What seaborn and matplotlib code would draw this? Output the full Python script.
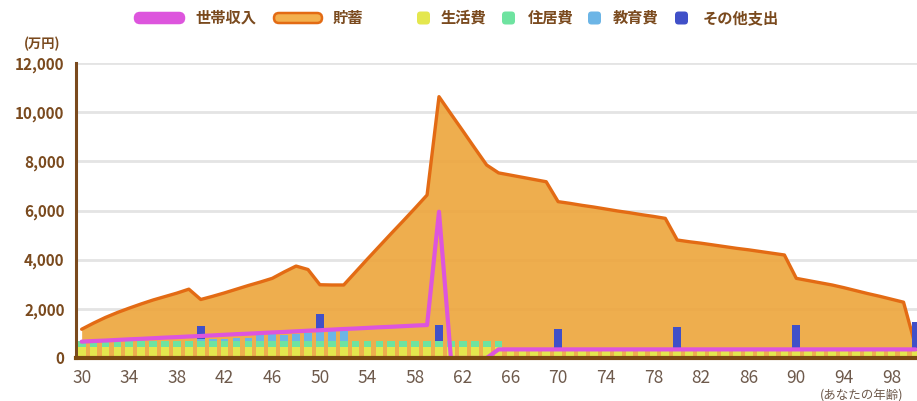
#!/usr/bin/env python3
"""Life plan chart: household income, savings and yearly expenses by age."""

import matplotlib
matplotlib.use("Agg")
import matplotlib.pyplot as plt
from matplotlib.patches import FancyBboxPatch
from matplotlib.ticker import FuncFormatter
import numpy as np
import seaborn as sns

# ---- data (万円) -------------------------------------------------------------
ages = list(range(30, 101))

savings = [
    1170, 1420, 1650, 1850, 2030, 2200, 2360, 2500, 2640, 2800,   # 30-39
    2380, 2510, 2650, 2800, 2950, 3090, 3240, 3500, 3740, 3600,   # 40-49
    2980, 2970, 2970, 3500, 4030, 4550, 5070, 5580, 6100, 6630,   # 50-59
    10630, 9930, 9240, 8540, 7850, 7530, 7440, 7350, 7260, 7170,  # 60-69
    6360, 6290, 6210, 6140, 6060, 5980, 5910, 5830, 5760, 5680,   # 70-79
    4800, 4730, 4670, 4600, 4530, 4460, 4400, 4330, 4260, 4190,   # 80-89
    3240, 3150, 3060, 2970, 2860, 2740, 2620, 2510, 2390, 2270,   # 90-99
    500,                                                          # 100
]

income = [
    665, 690, 710, 735, 760, 780, 805, 830, 850, 875,             # 30-39
    895, 920, 945, 970, 990, 1015, 1040, 1060, 1085, 1110,        # 40-49
    1130, 1155, 1180, 1200, 1225, 1250, 1270, 1295, 1320, 1340,   # 50-59
    5950, 0, 0, 0, 0, 350, 350, 350, 350, 350,                    # 60-69
    350, 350, 350, 350, 350, 350, 350, 350, 350, 350,             # 70-79
    350, 350, 350, 350, 350, 350, 350, 350, 350, 350,             # 80-89
    350, 350, 350, 350, 350, 350, 350, 350, 350, 350,             # 90-99
    350,                                                          # 100
]

living = [450] * 36 + [280] * 35          # 30-65, 66-100
housing = [230] * 36 + [0] * 35           # 30-65, 66-100
education = (
    [0] * 10                                                      # 30-39
    + [80, 100, 100, 120, 150, 300, 300, 250, 300, 350]           # 40-49
    + [400, 400, 400]                                             # 50-52
    + [0] * 48                                                    # 53-100
)
other = {40: 550, 50: 700, 60: 680, 70: 900, 80: 1000, 90: 1050, 100: 1200}

series_labels = ["世帯収入", "貯蓄", "生活費", "住居費", "教育費", "その他支出"]
x_ticks = list(range(30, 99, 4))
y_ticks = list(range(0, 12001, 2000))

# ---- style --------------------------------------------------------------------
C_INCOME = "#dd55dd"
C_SAVE_FILL = "#eda53b"
C_SAVE_EDGE = "#e36b14"
C_LIVING = "#e4e74e"
C_HOUSING = "#6ee3a0"
C_EDU = "#6cb5e6"
C_OTHER = "#4050c8"
C_BROWN = "#7a4a1e"
C_TICK = "#6e5a4c"

sns.set_theme(style="white")
plt.rcParams["font.family"] = ["Noto Sans CJK JP", "DejaVu Sans"]

W, H = 917, 401
fig = plt.figure(figsize=(W / 100, H / 100), dpi=100)

x0, x1 = 75.7, 921.4       # pixel positions of the x limits (29.5, 100.5)
y0, y1 = 358.0, 63.0       # pixel positions of 0 and 12,000
ax = fig.add_axes([x0 / W, (H - y0) / H, (x1 - x0) / W, (y0 - y1) / H])

# savings area
ax.fill_between(ages, savings, color=C_SAVE_FILL, alpha=0.9, lw=0, zorder=1)
sns.lineplot(x=ages, y=savings, color=C_SAVE_EDGE, lw=2.4, ax=ax, zorder=2)

# stacked expense bars (drawn as overlapping cumulative totals)
other_list = [other.get(a, 0) for a in ages]
lh = np.add(living, housing)
lhe = lh + np.array(education)
total = lhe + np.array(other_list)
for vals, col in [(total, C_OTHER), (lhe, C_EDU), (lh, C_HOUSING), (living, C_LIVING)]:
    sns.barplot(x=ages, y=list(vals), native_scale=True, width=0.65, color=col,
                saturation=1, errorbar=None, linewidth=0, ax=ax, zorder=3)

# income line
sns.lineplot(x=ages, y=income, color=C_INCOME, lw=3, ax=ax, zorder=5)

ax.set_xlim(29.5, 100.5)
ax.set_ylim(0, 12000)
ax.set_xticks(x_ticks)
ax.set_yticks(y_ticks)
ax.yaxis.set_major_formatter(FuncFormatter(lambda v, p: f"{int(v):,}"))
ax.set_xlabel("")
ax.set_ylabel("")
ax.grid(axis="y", color="#e4e4e4", lw=2, zorder=0)
ax.grid(axis="x", visible=False)
ax.set_axisbelow(True)
for s in ["top", "right"]:
    ax.spines[s].set_visible(False)
ax.spines["left"].set_color(C_BROWN)
ax.spines["left"].set_linewidth(2.2)
ax.spines["bottom"].set_color("#7b4a12")
ax.spines["bottom"].set_linewidth(3)
ax.spines["bottom"].set_zorder(6)
ax.tick_params(axis="y", length=0, pad=8, labelsize=11, labelcolor=C_BROWN)
ax.tick_params(axis="x", length=0, pad=8, labelsize=12.5, labelcolor=C_TICK)
for lab in ax.get_yticklabels():
    lab.set_fontweight("bold")

# overlay for legend and notes, in pixel coordinates
ov = fig.add_axes([0, 0, 1, 1], zorder=10)
ov.set_xlim(0, W)
ov.set_ylim(H, 0)
ov.axis("off")

ov.text(42, 44, "(万円)", ha="center", va="center", fontsize=9.5,
        fontweight="bold", color=C_BROWN)
ov.text(820, 396, "(あなたの年齢)", ha="left", va="center", fontsize=9,
        color=C_TICK)

# legend
ly = 18
pills = [(135, 49, C_INCOME, C_INCOME, series_labels[0], 195),
         (274, 48, "#f3b04e", C_SAVE_EDGE, series_labels[1], 333)]
for px, pw, fc, ec, lab, tx in pills:
    ov.add_patch(FancyBboxPatch((px, ly - 5), pw, 10,
                                boxstyle="round,pad=0,rounding_size=5",
                                fc=fc, ec=ec, lw=1.8))
    ov.text(tx, ly, lab, ha="left", va="center", fontsize=11,
            fontweight="bold", color=C_BROWN)

squares = [(417, C_LIVING, series_labels[2], 441),
           (502, C_HOUSING, series_labels[3], 528),
           (588, C_EDU, series_labels[4], 613),
           (675, C_OTHER, series_labels[5], 703)]
for px, fc, lab, tx in squares:
    ov.add_patch(FancyBboxPatch((px, ly - 6.5), 13, 13,
                                boxstyle="round,pad=0,rounding_size=3.5",
                                fc=fc, ec="none"))
    ov.text(tx, ly, lab, ha="left", va="center", fontsize=11,
            fontweight="bold", color=C_BROWN)

fig.savefig("out.png", dpi=100)
